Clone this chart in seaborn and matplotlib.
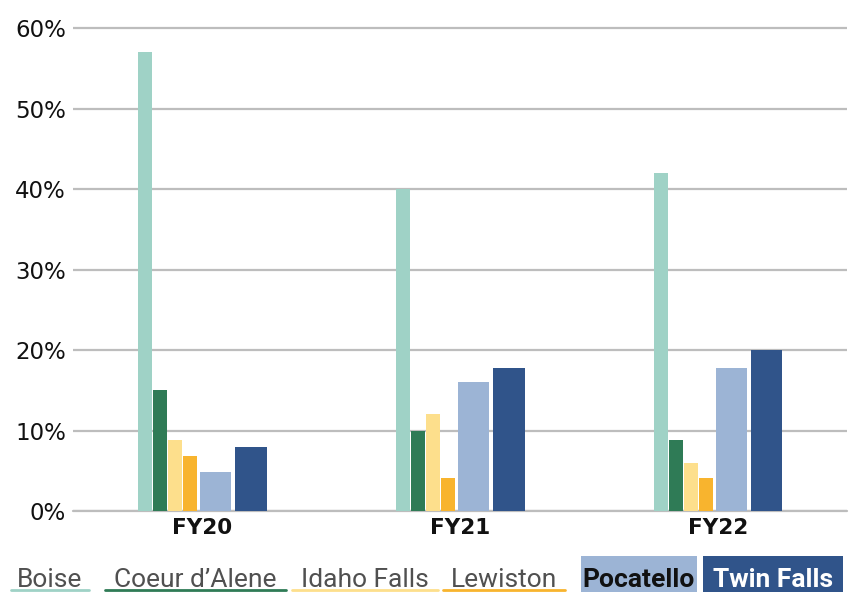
import numpy as np
import pandas as pd
import seaborn as sns
import matplotlib.pyplot as plt
from matplotlib.patches import Rectangle
from matplotlib.lines import Line2D

sns.set_theme(style="white")
plt.rcParams['font.family'] = ['DejaVu Sans']

# data (percent)
years = ['FY20', 'FY21', 'FY22']
cities = ['Boise', 'Coeur d\u2019Alene', 'Idaho Falls', 'Lewiston', 'Pocatello', 'Twin Falls']
boise = [57, 40, 42]
coeur = [15, 10, 8.8]
idaho_falls = [8.8, 12, 6]
lewiston = [6.9, 4.1, 4.1]
pocatello = [4.9, 16, 17.8]
twin_falls = [7.9, 17.8, 20]
values = [boise, coeur, idaho_falls, lewiston, pocatello, twin_falls]

colors = ['#9fd2c6', '#2f7b56', '#fddf8c', '#f8b42e', '#9cb4d5', '#30548a']
# bar placement inside each year group (data units) and widths
offsets = [-0.221, -0.163, -0.105, -0.047, 0.053, 0.188]
widths = [0.055, 0.055, 0.055, 0.055, 0.12, 0.124]

fig = plt.figure(figsize=(8.54, 5.92), dpi=100)
ax = fig.add_axes([0.0855, 0.1368, 0.9063, 0.829])

grid_c = '#bdbdbd'
ax.set_axisbelow(True)
ax.yaxis.grid(True, color=grid_c, lw=1.6)
ax.axhline(0, color=grid_c, lw=1.6, zorder=0.5, clip_on=False)

for city, vals, off, w, c in zip(cities, values, offsets, widths, colors):
    df = pd.DataFrame({'pos': np.arange(len(years)) + off, 'share': vals})
    sns.barplot(data=df, x='pos', y='share', native_scale=True, width=w,
                color=c, saturation=1, linewidth=0, errorbar=None, ax=ax)

ax.set_xlim(-0.5, 2.5)
ax.set_ylim(0, 61)
ax.set_xticks(range(len(years)))
ax.set_xticklabels(years, fontsize=15.5, fontweight='bold', color='#111111')
ax.set_yticks(range(0, 61, 10))
ax.set_yticklabels([f'{v}%' for v in range(0, 61, 10)], fontsize=16.5, color='#111111')
ax.tick_params(axis='both', length=0)
ax.tick_params(axis='y', pad=5)
ax.tick_params(axis='x', pad=5)
ax.set_xlabel('')
ax.set_ylabel('')
sns.despine(ax=ax, left=True, bottom=True)

# custom legend row along the bottom
W, H = 854, 592
spans = [(11, 89), (105, 286), (292, 438), (443, 565), (581, 697), (703, 843)]
leg_font = ['Roboto', 'DejaVu Sans']
for i, (city, (x0, x1), c) in enumerate(zip(cities, spans, colors)):
    xc = (x0 + x1) / 2 / W
    if i < 4:
        fig.add_artist(Line2D([x0 / W, x1 / W], [2.5 / H, 2.5 / H], color=c, lw=2,
                              transform=fig.transFigure))
        fig.text(xc, 5 / H, city, ha='center', va='baseline', fontsize=19,
                 family=leg_font, color='#505050')
    else:
        fig.add_artist(Rectangle((x0 / W, 0), (x1 - x0) / W, 36 / H, color=c,
                                 transform=fig.transFigure, lw=0))
        fig.text(xc, 5 / H, city, ha='center', va='baseline', fontsize=19,
                 family=leg_font, fontweight='bold',
                 color='#111111' if i == 4 else 'white')

fig.savefig('out.png', dpi=100)
